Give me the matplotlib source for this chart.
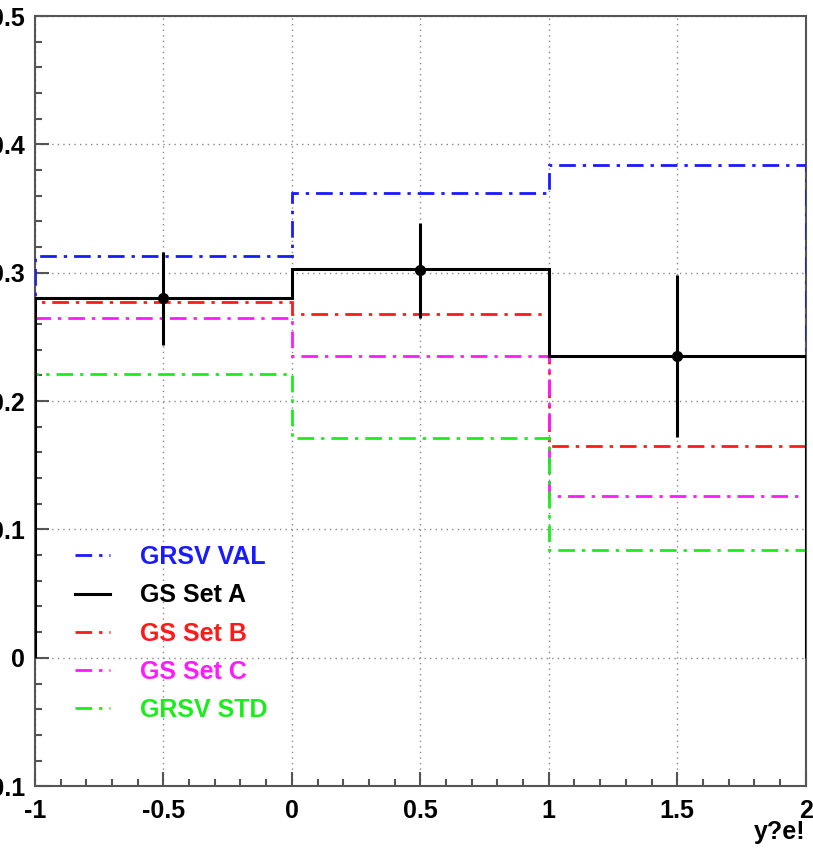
import numpy as np
import matplotlib.pyplot as plt
from matplotlib.ticker import MultipleLocator

# bin edges in y
edges = [-1.0, 0.0, 1.0, 2.0]

# theory curves
grsv_val = [0.313, 0.362, 0.384]
gs_set_a = [0.280, 0.303, 0.235]
gs_set_b = [0.277, 0.268, 0.165]
gs_set_c = [0.265, 0.235, 0.126]
grsv_std = [0.221, 0.171, 0.084]

# data points
data_x = [-0.5, 0.5, 1.5]
data_y = [0.280, 0.302, 0.235]
data_err = [0.036, 0.037, 0.063]

plt.rcParams['font.family'] = ['Liberation Sans', 'DejaVu Sans']
plt.rcParams['font.weight'] = 'bold'

fig = plt.figure(figsize=(8.13, 8.49), dpi=100)
ax = fig.add_axes([0.043, 0.074, 0.948, 0.907])

dashdot = (0, (6, 2.5, 1.2, 2.5))
curves = [
    ("GRSV VAL", grsv_val, "#1a1aff", dashdot),
    ("GS Set B", gs_set_b, "#ff1a1a", dashdot),
    ("GS Set C", gs_set_c, "#ff1aff", dashdot),
    ("GRSV STD", grsv_std, "#1aee1a", dashdot),
]
handles = {}
for name, vals, col, ls in curves:
    h = ax.stairs(vals, edges, baseline=0, color=col, linestyle=ls, linewidth=2.0, zorder=3)
    handles[name] = h
ha = ax.stairs(gs_set_a, edges, baseline=0, color="black", linewidth=2.2, zorder=4)
handles["GS Set A"] = ha

ax.errorbar(data_x, data_y, yerr=data_err, fmt='o', color='black', markersize=7,
            elinewidth=2.2, capsize=0, zorder=5)

ax.set_xlim(-1, 2)
ax.set_ylim(-0.1, 0.5)
ax.xaxis.set_minor_locator(MultipleLocator(0.1))
ax.yaxis.set_minor_locator(MultipleLocator(0.02))
ax.tick_params(which='both', direction='in', color='#555555', top=False, right=False)
ax.tick_params(which='major', length=10, width=1.5, labelsize=18)
ax.tick_params(which='minor', length=5, width=1.5)
ax.tick_params(axis='y', pad=7)
ax.tick_params(axis='x', pad=9)
ax.set_xticks([-1, -0.5, 0, 0.5, 1, 1.5, 2])
ax.set_xticklabels(["-1", "-0.5", "0", "0.5", "1", "1.5", "2"])
ax.set_yticks([-0.1, 0, 0.1, 0.2, 0.3, 0.4, 0.5])
ax.set_yticklabels(["-0.1", "0", "0.1", "0.2", "0.3", "0.4", "0.5"])
for lab in ax.get_xticklabels() + ax.get_yticklabels():
    lab.set_fontweight('bold')

ax.grid(True, which='major', linestyle=(0, (1, 3)), color='#888888', linewidth=1.0)
for s in ax.spines.values():
    s.set_color('#555555')
    s.set_linewidth(1.5)

order = ["GRSV VAL", "GS Set A", "GS Set B", "GS Set C", "GRSV STD"]
leg = ax.legend([handles[k] for k in order], order, loc='upper left',
                bbox_to_anchor=(0.052, 0.313), frameon=False,
                handlelength=1.4, handletextpad=1.2, labelspacing=0.57,
                borderpad=0, borderaxespad=0, labelcolor='linecolor',
                prop={'weight': 'bold', 'size': 18})

fig.text(0.991, 1 - 832 / 849, "y?e!", ha='right', va='center', fontsize=18, fontweight='bold')

fig.savefig("out.png", dpi=100)
